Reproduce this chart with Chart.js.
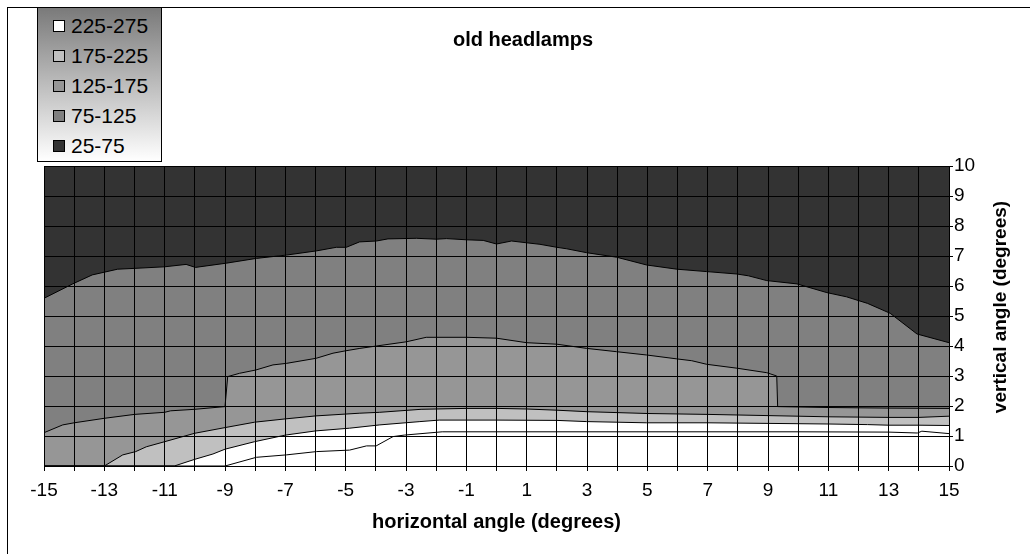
<!DOCTYPE html>
<html>
<head>
<meta charset="utf-8">
<title>old headlamps</title>
<script src="https://cdn.jsdelivr.net/npm/chart.js@4.4.1/dist/chart.umd.min.js"></script>
<style>
  html, body { margin: 0; padding: 0; background: #fff; }
  #wrap { position: relative; width: 1030px; height: 554px; overflow: hidden; }
  #frame { position: absolute; left: 7px; top: 7px; width: 1040px; height: 560px; border: 1px solid #000; }
  #chart { position: absolute; left: 0; top: 0; }
  #legend {
    position: absolute; left: 37px; top: 7px; width: 123px; height: 153px;
    border: 1px solid #000; background: linear-gradient(#7a7a7a, #ffffff);
    font: 21px "Liberation Sans", Arial, sans-serif; color: #000;
  }
  .item { position: absolute; left: 15px; height: 30px; display: flex; align-items: center; }
  .swatch { width: 10px; height: 10px; border: 1px solid #000; margin-right: 6px; }
</style>
</head>
<body>
<div id="wrap">
  <div id="frame"></div>
  <canvas id="chart" width="1030" height="554"></canvas>
  <div id="legend"></div>
</div>
<script>
// Titulos e faixas do grafico
const chartTitle = 'old headlamps';
const xTitle = 'horizontal angle (degrees)';
const yTitle = 'vertical angle (degrees)';

const bandLabels = ['25-75', '75-125', '125-175', '175-225', '225-275'];
const bandColors = ['#333333', '#808080', '#969696', '#c0c0c0', '#ffffff'];

// Curvas de contorno: angulo horizontal -> angulo vertical
const boundary75X = [-15, -14.05, -13.4, -12.56, -11.95, -11, -10.29, -9.98, -8.96, -7.96, -6.97, -5.97, -5.31, -4.98, -4.54, -3.98, -3.6, -2.65, -1.99, -1.66, -0.99, -0.44, 0, 0.5, 1, 1.44, 2, 2.33, 2.99, 3.98, 4.98, 5.98, 6.97, 7.97, 8.35, 8.96, 9.96, 10.95, 11.6, 12.3, 13.05, 13.94, 15];
const boundary75Y = [5.59, 6.07, 6.37, 6.56, 6.59, 6.64, 6.72, 6.62, 6.76, 6.92, 7.03, 7.17, 7.29, 7.29, 7.47, 7.5, 7.57, 7.59, 7.56, 7.58, 7.54, 7.52, 7.4, 7.5, 7.44, 7.39, 7.29, 7.24, 7.11, 6.96, 6.7, 6.56, 6.48, 6.4, 6.34, 6.18, 6.07, 5.78, 5.64, 5.42, 5.09, 4.4, 4.11];

const boundary125X = [-15, -14.38, -14, -13, -12, -11, -10.8, -10, -9, -8.91, -8.52, -7.98, -7.41, -6.97, -5.98, -5.42, -5, -4.53, -3.98, -2.99, -2.33, -0.99, 0, 1, 2, 2.99, 3.98, 4.98, 5.98, 6.47, 6.97, 7.97, 8.96, 9.29, 9.32, 11, 13, 15];
const boundary125Y = [1.11, 1.37, 1.44, 1.59, 1.72, 1.79, 1.84, 1.89, 1.98, 2.98, 3.09, 3.2, 3.37, 3.42, 3.59, 3.76, 3.84, 3.92, 4.0, 4.14, 4.29, 4.29, 4.26, 4.11, 4.06, 3.92, 3.81, 3.7, 3.57, 3.51, 3.39, 3.26, 3.11, 3.0, 1.98, 1.95, 1.93, 1.92];

const boundary175X = [-15, -13, -12.39, -11.96, -11.61, -11, -10.01, -9, -8.02, -7, -5.99, -4.53, -3.87, -2.5, -1, 0, 1, 2, 3, 4, 5, 7, 9, 11, 13, 14, 15];
const boundary175Y = [0, 0, 0.37, 0.48, 0.64, 0.81, 1.09, 1.28, 1.46, 1.57, 1.67, 1.76, 1.79, 1.89, 1.92, 1.92, 1.9, 1.86, 1.81, 1.78, 1.75, 1.72, 1.68, 1.64, 1.62, 1.62, 1.66];

const boundary225X = [-15, -10.68, -10.01, -9.4, -9, -8.02, -7, -5.99, -4.87, -3.87, -2.54, -1.9, 0, 2, 2.99, 4.98, 7, 9, 11, 12.3, 13, 14, 15];
const boundary225Y = [0, 0, 0.22, 0.4, 0.56, 0.81, 1.03, 1.17, 1.26, 1.37, 1.48, 1.53, 1.53, 1.52, 1.48, 1.44, 1.44, 1.42, 1.4, 1.38, 1.36, 1.36, 1.35];

const boundary275X = [-15, -9, -7.96, -6.97, -5.97, -4.87, -4.31, -3.99, -3.43, -3.06, -1.8, 0, 5, 10, 13, 13.95, 14.1, 15];
const boundary275Y = [0, 0, 0.29, 0.37, 0.48, 0.53, 0.67, 0.67, 0.98, 1.03, 1.14, 1.14, 1.14, 1.14, 1.13, 1.1, 1.16, 1.08];

function toPoints(xs, ys) {
    return xs.map((x, i) => ({ x: x, y: ys[i] }));
}

// Legenda em HTML (de cima para baixo: faixa mais alta primeiro)
const legendEl = document.getElementById('legend');
bandLabels.slice().reverse().forEach((label, i) => {
    const color = bandColors[bandColors.length - 1 - i];
    const item = document.createElement('div');
    item.className = 'item';
    item.style.top = (3 + i * 30) + 'px';
    item.innerHTML = '<span class="swatch" style="background:' + color + '"></span><span>' + label + '</span>';
    legendEl.appendChild(item);
});

// Fundo da area do grafico e textos extras
const extras = {
    id: 'extras',
    beforeDatasetsDraw(chart) {
        const { ctx, chartArea } = chart;
        ctx.save();
        ctx.fillStyle = bandColors[0];
        ctx.fillRect(chartArea.left, chartArea.top, chartArea.right - chartArea.left, chartArea.bottom - chartArea.top);
        ctx.restore();
    },
    afterDraw(chart) {
        const { ctx } = chart;
        ctx.save();
        ctx.fillStyle = '#000';
        ctx.textAlign = 'center';
        ctx.textBaseline = 'middle';
        ctx.font = 'bold 20px "Liberation Sans", Arial, sans-serif';
        ctx.fillText(chartTitle, 523, 40);
        ctx.font = 'bold 19px "Liberation Sans", Arial, sans-serif';
        ctx.translate(1001, 307);
        ctx.rotate(-Math.PI / 2);
        ctx.fillText(yTitle, 0, 0);
        ctx.restore();
    }
};

Chart.defaults.font.family = '"Liberation Sans", Arial, sans-serif';
Chart.defaults.font.size = 19;
Chart.defaults.color = '#000';

function contourDataset(xs, ys, fillColor, order) {
    return {
        data: toPoints(xs, ys),
        borderColor: '#000',
        borderWidth: 1,
        backgroundColor: fillColor || 'transparent',
        fill: fillColor ? 'start' : false,
        pointRadius: 0,
        tension: 0,
        order: order
    };
}

const chart = new Chart(document.getElementById('chart').getContext('2d'), {
    type: 'line',
    data: {
        datasets: [
            contourDataset(boundary275X, boundary275Y, null, 1),
            contourDataset(boundary225X, boundary225Y, bandColors[4], 2),
            contourDataset(boundary175X, boundary175Y, bandColors[3], 3),
            contourDataset(boundary125X, boundary125Y, bandColors[2], 4),
            contourDataset(boundary75X, boundary75Y, bandColors[1], 5)
        ]
    },
    options: {
        responsive: false,
        animation: false,
        events: [],
        devicePixelRatio: 1,
        layout: { padding: { left: 44, top: 166, right: 0, bottom: 0 } },
        plugins: {
            legend: { display: false },
            tooltip: { enabled: false },
            title: { display: false }
        },
        scales: {
            x: {
                type: 'linear',
                min: -15,
                max: 15,
                grid: { color: '#000', lineWidth: 1, tickLength: 5, z: 1 },
                border: { color: '#000', width: 1, z: 1 },
                ticks: {
                    stepSize: 1,
                    autoSkip: false,
                    maxRotation: 0,
                    padding: 8,
                    callback: v => (Math.abs(v) % 2 === 1 ? String(v) : '')
                },
                title: {
                    display: true,
                    text: xTitle,
                    font: { size: 20, weight: 'bold' },
                    padding: { top: 0, bottom: 20 }
                },
                afterFit(scale) { scale.height = 88; }
            },
            y: {
                position: 'right',
                min: 0,
                max: 10,
                grid: { color: '#000', lineWidth: 1, tickLength: 4, z: 1 },
                border: { color: '#000', width: 1, z: 1 },
                ticks: { stepSize: 1, padding: 1 },
                afterFit(scale) { scale.width = 81; }
            }
        }
    },
    plugins: [extras]
});
</script>
</body>
</html>
